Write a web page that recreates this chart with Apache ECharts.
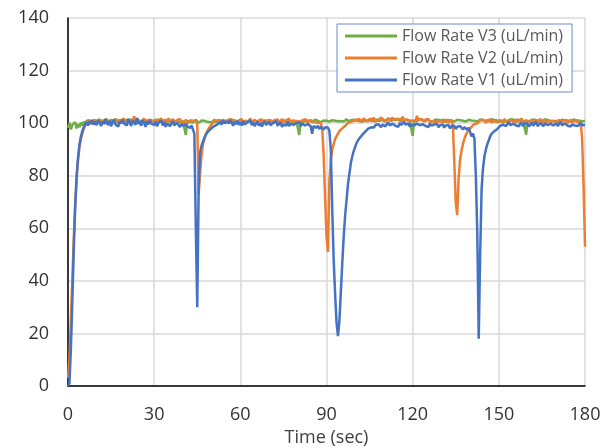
<!DOCTYPE html>
<html>
<head>
<meta charset="utf-8">
<script src="https://cdn.jsdelivr.net/npm/echarts@6/dist/echarts.min.js"></script>
<style>
  html, body { margin: 0; padding: 0; background: #fff; }
  #picture1 { width: 602px; height: 448px; }
</style>
</head>
<body>
<div id="picture1"></div>
<script>
// sample times (sec), one every 0.5 s
var timeSec = [
    0, 0.5, 1, 1.5, 2, 2.5, 3, 3.5, 4, 4.5, 5, 5.5, 6, 6.5, 7, 7.5, 8, 8.5, 9, 9.5,
    10, 10.5, 11, 11.5, 12, 12.5, 13, 13.5, 14, 14.5, 15, 15.5, 16, 16.5, 17, 17.5, 18, 18.5, 19, 19.5,
    20, 20.5, 21, 21.5, 22, 22.5, 23, 23.5, 24, 24.5, 25, 25.5, 26, 26.5, 27, 27.5, 28, 28.5, 29, 29.5,
    30, 30.5, 31, 31.5, 32, 32.5, 33, 33.5, 34, 34.5, 35, 35.5, 36, 36.5, 37, 37.5, 38, 38.5, 39, 39.5,
    40, 40.5, 41, 41.5, 42, 42.5, 43, 43.5, 44, 44.5, 45, 45.5, 46, 46.5, 47, 47.5, 48, 48.5, 49, 49.5,
    50, 50.5, 51, 51.5, 52, 52.5, 53, 53.5, 54, 54.5, 55, 55.5, 56, 56.5, 57, 57.5, 58, 58.5, 59, 59.5,
    60, 60.5, 61, 61.5, 62, 62.5, 63, 63.5, 64, 64.5, 65, 65.5, 66, 66.5, 67, 67.5, 68, 68.5, 69, 69.5,
    70, 70.5, 71, 71.5, 72, 72.5, 73, 73.5, 74, 74.5, 75, 75.5, 76, 76.5, 77, 77.5, 78, 78.5, 79, 79.5,
    80, 80.5, 81, 81.5, 82, 82.5, 83, 83.5, 84, 84.5, 85, 85.5, 86, 86.5, 87, 87.5, 88, 88.5, 89, 89.5,
    90, 90.5, 91, 91.5, 92, 92.5, 93, 93.5, 94, 94.5, 95, 95.5, 96, 96.5, 97, 97.5, 98, 98.5, 99, 99.5,
    100, 100.5, 101, 101.5, 102, 102.5, 103, 103.5, 104, 104.5, 105, 105.5, 106, 106.5, 107, 107.5, 108, 108.5, 109, 109.5,
    110, 110.5, 111, 111.5, 112, 112.5, 113, 113.5, 114, 114.5, 115, 115.5, 116, 116.5, 117, 117.5, 118, 118.5, 119, 119.5,
    120, 120.5, 121, 121.5, 122, 122.5, 123, 123.5, 124, 124.5, 125, 125.5, 126, 126.5, 127, 127.5, 128, 128.5, 129, 129.5,
    130, 130.5, 131, 131.5, 132, 132.5, 133, 133.5, 134, 134.5, 135, 135.5, 136, 136.5, 137, 137.5, 138, 138.5, 139, 139.5,
    140, 140.5, 141, 141.5, 142, 142.5, 143, 143.5, 144, 144.5, 145, 145.5, 146, 146.5, 147, 147.5, 148, 148.5, 149, 149.5,
    150, 150.5, 151, 151.5, 152, 152.5, 153, 153.5, 154, 154.5, 155, 155.5, 156, 156.5, 157, 157.5, 158, 158.5, 159, 159.5,
    160, 160.5, 161, 161.5, 162, 162.5, 163, 163.5, 164, 164.5, 165, 165.5, 166, 166.5, 167, 167.5, 168, 168.5, 169, 169.5,
    170, 170.5, 171, 171.5, 172, 172.5, 173, 173.5, 174, 174.5, 175, 175.5, 176, 176.5, 177, 177.5, 178, 178.5, 179, 179.5,
    180
];

var flowV1 = [
    0, 1, 14, 32, 52, 68, 80, 87, 92, 95, 97, 98.5, 99.6, 100.4, 99.1, 100.8, 99.7, 101.2, 99.4, 100.6,
    99.2, 101.1, 100.3, 98.9, 100.7, 99.6, 101.5, 100.2, 99.3, 100.9, 98.8, 100.4, 101.3, 99.5, 100.1, 98.7, 100.6, 99.8, 101.4, 99.9,
    100.5, 99.1, 101.7, 100.2, 98.9, 101.0, 100.3, 99.4, 102.0, 99.7, 100.8, 99.0, 101.2, 100.1, 98.6, 100.7, 99.5, 101.1, 99.8, 100.4,
    99.3, 100.6, 98.8, 100.2, 99.7, 101.0, 99.1, 100.4, 98.6, 99.9, 100.5, 98.9, 99.6, 100.8, 99.2, 98.7, 100.1, 99.4, 98.5, 99.8,
    99.0, 98.4, 99.7, 98.8, 99.5, 98.2, 99.1, 98.6, 96, 60, 30, 76, 89, 91.5, 93, 94.5, 95.5, 96.5, 97, 97.6,
    98.0, 98.6, 98.3, 99.2, 99.0, 99.8, 100.6, 99.4, 101.1, 100.0, 99.3, 100.7, 99.8, 101.2, 100.1, 99.0, 100.5, 99.6, 100.9, 99.4,
    100.2, 99.1, 100.8, 99.5, 98.8, 100.4, 99.7, 101.0, 99.2, 100.3, 98.9, 99.8, 100.6, 99.0, 100.1, 98.7, 99.9, 100.7, 99.3, 99.8,
    100.5, 99.2, 98.8, 100.1, 99.6, 100.8, 99.0, 99.7, 100.3, 98.6, 99.5, 100.2, 99.1, 100.6, 98.9, 99.8, 100.4, 99.3, 98.7, 100.0,
    99.4, 100.3, 98.9, 99.9, 100.5, 99.1, 98.5, 99.7, 100.2, 98.8, 96.0, 98.9, 99.4, 98.2, 99.0, 97.8, 98.6, 98.0, 97.6, 98.4,
    97.8, 98.3, 97.0, 90, 67, 48, 35, 24, 19, 25, 36, 47, 57, 65, 71, 77, 81, 85, 87.5, 89.5,
    91, 92.5, 93.5, 94.3, 95, 95.6, 96.3, 96.8, 97.2, 97.9, 97.6, 98.4, 98.9, 98.3, 99.2, 98.6, 99.6, 99.0, 98.5, 99.4,
    99.9, 98.8, 99.5, 100.3, 99.1, 98.7, 99.8, 100.4, 99.0, 99.6, 98.6, 100.1, 99.3, 98.9, 100.5, 99.4, 99.0, 99.9, 98.7, 99.5,
    100.2, 99.1, 98.6, 99.8, 100.3, 99.2, 98.8, 99.6, 100.1, 98.9, 99.4, 98.5, 99.9, 99.1, 98.7, 99.5, 98.9, 99.7, 98.4, 99.2,
    98.8, 99.5, 98.3, 99.1, 98.6, 99.3, 98.0, 98.9, 98.4, 99.0, 97.8, 98.6, 98.2, 98.9, 98.4, 97.6, 98.5, 98.0, 97.5, 98.3,
    97.6, 95.0, 96.0, 94, 80, 58, 18, 50, 75, 83, 87.5, 90, 92, 93.5, 95, 96, 96.5, 97, 97.5, 97.8,
    98.3, 99.0, 98.5, 99.4, 100.1, 98.9, 99.6, 100.3, 99.2, 98.7, 99.8, 100.4, 99.1, 99.7, 98.8, 100.2, 99.5, 98.9, 100.0, 99.3,
    99.9, 98.7, 99.4, 100.2, 99.0, 99.7, 100.5, 98.9, 99.3, 100.1, 99.6, 98.8, 99.9, 100.4, 99.2, 98.6, 99.8, 100.3, 99.1, 99.5,
    100.0, 98.9, 99.6, 100.4, 99.2, 98.8, 99.9, 100.3, 99.0, 99.7, 98.7, 99.5, 100.2, 99.1, 99.8, 98.9, 99.4, 100.1, 99.2, 99.7,
    99.3
];

var flowV2 = [
    3, 10, 25, 40, 56, 69, 79, 86, 91, 94, 96, 98, 99, 100.2, 99.6, 101.0, 100.3, 99.5, 101.2, 100.6,
    100.1, 101.4, 100.0, 99.6, 101.1, 100.5, 99.8, 101.6, 100.4, 100.9, 99.7, 101.3, 100.2, 100.8, 101.5, 99.9, 100.6, 101.0, 100.3, 101.7,
    100.5, 101.2, 99.9, 100.8, 101.0, 100.4, 102.6, 100.1, 101.6, 100.7, 101.3, 100.0, 100.9, 101.8, 100.3, 100.6, 101.4, 99.9, 100.8, 101.1,
    100.6, 101.5, 100.2, 101.0, 100.4, 101.7, 100.8, 100.1, 101.3, 100.5, 101.9, 100.7, 100.2, 101.4, 100.9, 100.3, 101.2, 100.6, 101.6, 100.4,
    101.0, 100.2, 101.3, 100.7, 100.0, 101.1, 100.4, 100.9, 100.3, 100.8, 99.5, 73, 81, 88, 92, 94, 96, 97, 98, 98.8,
    99.4, 100.2, 99.8, 100.9, 100.3, 101.2, 100.6, 100.0, 101.4, 100.7, 100.1, 101.0, 100.5, 101.6, 100.2, 100.8, 101.3, 99.9, 100.6, 101.1,
    100.4, 101.5, 100.0, 100.9, 101.2, 100.3, 100.7, 101.8, 100.2, 100.9, 101.3, 100.5, 100.0, 101.1, 100.6, 101.4, 100.2, 100.8, 101.0, 100.3,
    100.9, 101.6, 100.4, 100.1, 101.2, 100.7, 101.4, 100.3, 100.8, 101.5, 100.2, 100.9, 101.1, 100.5, 101.7, 100.3, 100.6, 101.2, 100.0, 100.8,
    101.3, 100.6, 100.1, 101.0, 100.4, 101.5, 100.8, 100.2, 101.1, 100.5, 100.9, 101.4, 100.3, 100.7, 100.0, 99.6, 100.2, 98, 88, 72,
    57, 51, 78, 86, 90, 92, 94, 95, 96, 97, 97.5, 98, 98.5, 99.0, 99.4, 100.1, 99.7, 100.5, 100.2, 100.9,
    100.4, 101.3, 100.8, 101.6, 100.5, 101.0, 101.9, 100.7, 101.4, 100.9, 101.7, 100.6, 101.2, 102.0, 100.8, 101.5, 100.9, 101.3, 102.2, 101.0,
    101.6, 100.7, 101.3, 101.9, 100.9, 101.5, 102.1, 101.0, 100.6, 101.8, 101.2, 100.8, 101.6, 102.4, 101.1, 100.7, 101.4, 101.9, 100.9, 101.3,
    101.0, 101.7, 100.6, 102.8, 101.2, 100.8, 101.5, 101.0, 100.6, 101.4, 100.9, 101.6, 100.5, 101.2, 100.8, 101.5, 100.3, 101.0, 100.7, 101.3,
    100.6, 101.1, 100.4, 100.9, 101.4, 100.2, 100.8, 101.2, 99, 85, 70, 65, 79, 86, 89.5, 92, 94, 95.5, 96.5, 97.3,
    98.0, 98.6, 99.2, 99.7, 100.3, 99.9, 100.6, 101.0, 100.4, 101.3, 100.8, 100.2, 101.1, 100.6, 101.4, 100.1, 100.9, 101.5, 100.5, 101.0,
    100.4, 101.2, 100.8, 100.1, 101.6, 100.7, 101.0, 100.3, 101.3, 100.9, 100.5, 101.4, 100.2, 100.8, 101.1, 100.6, 101.7, 100.4, 100.9, 101.2,
    100.3, 101.0, 100.7, 101.5, 100.1, 100.8, 101.3, 100.5, 100.9, 101.6, 100.2, 100.7, 101.2, 100.0, 100.8, 101.4, 100.5, 99.8, 100.9, 101.1,
    100.4, 100.9, 101.3, 100.2, 100.7, 101.0, 100.5, 101.2, 100.1, 100.8, 101.4, 100.3, 100.6, 100.9, 101.1, 100.4, 100.8, 100.4, 94, 76,
    53
];

var flowV3 = [
    98.2, 100.1, 97.6, 99.3, 98.8, 100.4, 98.0, 99.6, 98.5, 100.2, 99.1, 100.6, 99.4, 100.9, 100.2, 101.1, 100.5, 99.8, 101.2, 100.6,
    100.9, 100.3, 101.4, 100.7, 100.1, 101.0, 100.6, 101.5, 100.2, 100.8, 101.3, 100.4, 100.9, 101.6, 100.3, 100.7, 101.2, 100.5, 101.0, 100.2,
    100.8, 101.3, 100.4, 100.9, 101.5, 100.6, 100.2, 101.1, 100.7, 101.4, 100.3, 100.9, 101.2, 100.5, 101.0, 100.1, 100.8, 101.3, 100.6, 100.9,
    101.2, 100.4, 100.8, 101.5, 100.6, 100.1, 100.9, 101.3, 100.5, 100.8, 101.1, 100.3, 100.7, 101.4, 100.6, 100.2, 100.9, 101.2, 100.4, 100.7,
    100.9, 100.4, 95.5, 100.8, 101.2, 100.5, 100.9, 100.2, 100.7, 101.3, 100.6, 100.1, 100.8, 101.0, 100.4, 100.9, 101.3, 100.5, 100.8, 100.3,
    101.0, 100.6, 101.4, 100.2, 100.8, 101.1, 100.5, 100.9, 101.3, 100.4, 100.7, 101.2, 100.3, 100.9, 101.5, 100.6, 100.2, 100.8, 101.1, 100.5,
    100.9, 101.3, 100.4, 100.7, 101.0, 100.2, 100.8, 101.4, 100.6, 100.3, 100.9, 101.2, 100.5, 100.8, 101.3, 100.4, 100.7, 101.1, 100.2, 100.9,
    101.2, 100.5, 100.8, 101.4, 100.3, 100.9, 101.1, 100.6, 100.2, 100.8, 101.3, 100.4, 100.9, 101.0, 100.5, 100.8, 101.4, 100.3, 100.7, 101.0,
    100.6, 95.5, 100.8, 101.2, 100.4, 100.9, 101.3, 100.5, 100.8, 101.1, 100.2, 100.7, 101.3, 100.6, 100.9, 101.2, 100.4, 100.8, 101.0, 100.5,
    100.9, 101.3, 100.6, 100.8, 101.1, 100.4, 100.9, 101.4, 100.7, 100.3, 100.8, 101.2, 100.6, 101.0, 101.5, 100.7, 100.4, 101.1, 100.8, 101.3,
    100.6, 101.0, 101.6, 100.8, 101.2, 100.5, 100.9, 101.4, 101.0, 100.7, 101.3, 101.8, 100.9, 101.2, 100.6, 101.5, 101.0, 100.8, 101.3, 101.7,
    101.0, 100.6, 101.4, 101.1, 101.7, 100.8, 101.2, 101.5, 100.9, 101.3, 101.0, 101.6, 100.7, 101.2, 101.4, 100.9, 101.1, 101.8, 100.8, 101.3,
    95.2, 101.0, 101.4, 100.8, 101.2, 101.6, 100.9, 101.3, 101.0, 100.7, 101.5, 101.1, 100.8, 101.3, 100.6, 101.0, 101.4, 100.9, 101.2, 100.6,
    101.1, 100.8, 101.3, 100.5, 100.9, 101.2, 100.7, 101.0, 101.4, 100.6, 100.9, 101.3, 100.8, 101.1, 100.5, 100.9, 101.2, 100.6, 101.0, 101.3,
    100.7, 101.0, 100.4, 100.9, 101.2, 100.6, 101.0, 101.4, 100.8, 101.1, 100.5, 100.9, 101.3, 100.7, 101.0, 101.5, 100.8, 101.2, 100.6, 101.0,
    101.3, 100.7, 101.1, 100.9, 101.4, 100.6, 101.0, 101.2, 100.8, 101.5, 100.9, 101.1, 100.6, 101.3, 100.8, 101.0, 101.4, 100.7, 101.2, 95.6,
    100.9, 101.2, 100.6, 101.0, 101.4, 100.8, 101.1, 100.5, 100.9, 101.3, 100.7, 101.0, 101.5, 100.8, 101.2, 100.6, 100.9, 101.3, 100.7, 101.1,
    100.8, 101.2, 100.5, 101.0, 101.3, 100.7, 101.1, 100.4, 100.9, 101.2, 100.6, 101.0, 101.4, 100.8, 101.1, 100.5, 100.9, 101.3, 100.7, 101.0,
    100.8
];

var seriesNames = ['Flow Rate V3 (uL/min)', 'Flow Rate V2 (uL/min)', 'Flow Rate V1 (uL/min)'];
var seriesColors = ['#70AD47', '#ED7D31', '#4472C4'];

function pairs(values) {
    var out = [];
    for (var i = 0; i < timeSec.length; i++) {
        out.push([timeSec[i], values[i]]);
    }
    return out;
}

function lineSeries(name, color, values) {
    return {
        name: name,
        type: 'line',
        data: pairs(values),
        showSymbol: false,
        symbol: 'none',
        lineStyle: { color: color, width: 2.5 },
        itemStyle: { color: color }
    };
}

var myChart1 = echarts.init(document.getElementById('picture1'));
var option = {
    animation: false,
    backgroundColor: '#fff',
    textStyle: { fontFamily: 'Open Sans' },
    grid: { left: 68, right: 17, top: 18, bottom: 62, outerBoundsMode: 'none' },
    legend: {
        data: seriesNames,
        orient: 'vertical',
        left: 337,
        top: 24,
        padding: [4, 9, 4, 8],
        itemGap: 6,
        itemWidth: 52,
        itemHeight: 3,
        itemTextGap: 6,
        icon: 'rect',
        backgroundColor: '#fff',
        borderColor: '#6a8bcc',
        borderWidth: 1,
        textStyle: { color: '#595959', fontSize: 16, fontFamily: 'Open Sans' }
    },
    xAxis: {
        type: 'value',
        min: 0,
        max: 180,
        interval: 30,
        name: 'Time (sec)',
        nameLocation: 'middle',
        nameGap: 43,
        nameTextStyle: { color: '#404040', fontSize: 18 },
        axisLine: { show: true, lineStyle: { color: '#000', width: 1.5 } },
        axisTick: { show: false },
        axisLabel: { color: '#333', fontSize: 18, margin: 20 },
        splitLine: { show: true, lineStyle: { color: '#d9d9d9', width: 1.5 } }
    },
    yAxis: {
        type: 'value',
        min: 0,
        max: 140,
        interval: 20,
        axisLine: { show: true, lineStyle: { color: '#000', width: 1.5 } },
        axisTick: { show: false },
        axisLabel: { color: '#333', fontSize: 18, margin: 19 },
        splitLine: { show: true, lineStyle: { color: '#d9d9d9', width: 1.5 } }
    },
    series: [
        lineSeries(seriesNames[0], seriesColors[0], flowV3),
        lineSeries(seriesNames[1], seriesColors[1], flowV2),
        lineSeries(seriesNames[2], seriesColors[2], flowV1)
    ]
};
myChart1.setOption(option);
</script>
</body>
</html>
